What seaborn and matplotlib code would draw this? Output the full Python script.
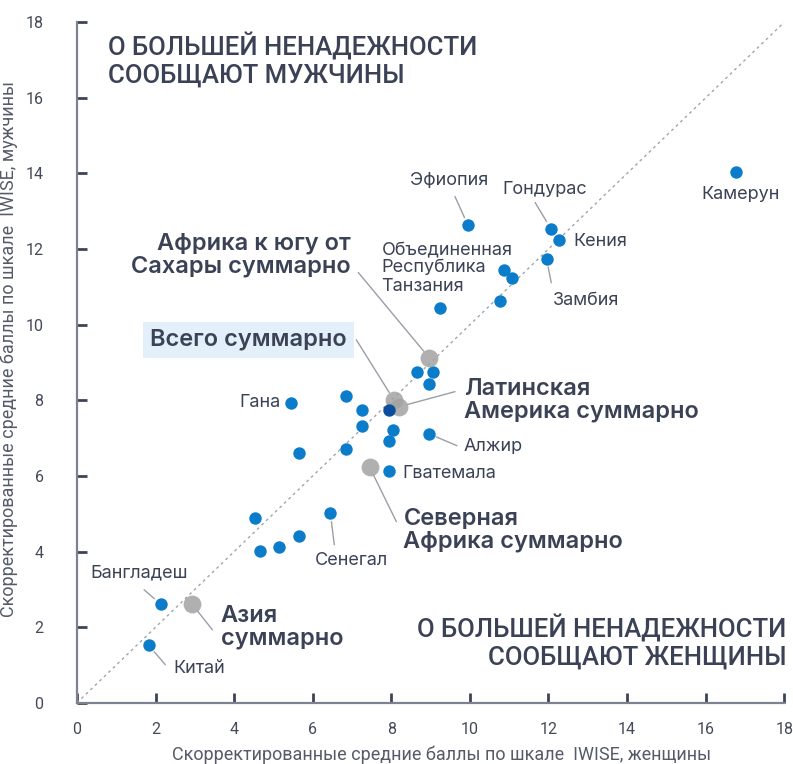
import matplotlib
matplotlib.use("Agg")
import matplotlib.pyplot as plt
import seaborn as sns
import pandas as pd

# Country-level points (women score, men score)
country_x = [16.78, 9.95, 12.06, 12.27, 11.95, 10.86, 11.06, 10.76, 9.25,
             8.65, 9.05, 8.96, 6.85, 5.44, 7.26, 7.25, 8.05, 7.95, 8.95,
             6.84, 5.64, 7.95, 4.53, 6.45, 5.64, 5.15, 4.65, 2.13, 1.83]
country_y = [14.04, 12.63, 12.54, 12.24, 11.74, 11.45, 11.24, 10.63, 10.43,
             8.74, 8.74, 8.43, 8.12, 7.93, 7.74, 7.31, 7.22, 6.92, 7.12,
             6.70, 6.62, 6.12, 4.90, 5.01, 4.42, 4.11, 4.02, 2.61, 1.52]
highlight_x = [7.95]
highlight_y = [7.75]

# Regional summary points
summary_names = ["Африка к югу от\nСахары суммарно", "Всего суммарно",
                 "Латинская\nАмерика суммарно", "Северная\nАфрика суммарно",
                 "Азия\nсуммарно"]
summary_x = [8.96, 8.06, 8.20, 7.45, 2.93]
summary_y = [9.13, 8.02, 7.83, 6.23, 2.61]

x_ticks = [0, 2, 4, 6, 8, 10, 12, 14, 16, 18]
y_ticks = [0, 2, 4, 6, 8, 10, 12, 14, 16, 18]

BLUE = "#0a7cc9"
DARKBLUE = "#0b4f9c"
GRAY = "#a3a3a3"
TXT = "#3b4256"
LINE = "#9a9ea8"

sns.set_theme(style="white")
plt.rcParams["font.family"] = ["Roboto", "DejaVu Sans"]

fig = plt.figure(figsize=(7.93, 7.64), dpi=100)
ax = fig.add_axes([0.097, 0.080, 0.892, 0.891])

ax.plot([0, 18], [0, 18], linestyle=(0, (2, 2.5)), color="#a0a4ab", lw=1, zorder=1)

df_c = pd.DataFrame({"x": country_x, "y": country_y})
df_s = pd.DataFrame({"x": summary_x, "y": summary_y, "name": summary_names})
df_h = pd.DataFrame({"x": highlight_x, "y": highlight_y})

sns.scatterplot(data=df_c, x="x", y="y", ax=ax, color=BLUE, s=80,
                linewidth=0, zorder=3)
sns.scatterplot(data=df_s, x="x", y="y", ax=ax, color=GRAY, s=165,
                linewidth=0, alpha=0.85, zorder=4)
sns.scatterplot(data=df_h, x="x", y="y", ax=ax, color=DARKBLUE, s=80,
                linewidth=0, zorder=5)

ax.set_xlim(0, 18)
ax.set_ylim(0, 18)
ax.set_xticks(x_ticks)
ax.set_yticks(y_ticks)
ax.set_xticklabels([str(v) for v in x_ticks])
ax.set_yticklabels([str(v) for v in y_ticks])
ax.tick_params(axis="both", direction="in", length=7, width=2,
               color="#3d4455", labelcolor="#444a58", labelsize=11.5,
               bottom=True, left=True)
ax.tick_params(axis="x", pad=14)
ax.tick_params(axis="y", pad=24)
for side in ["top", "right"]:
    ax.spines[side].set_visible(False)
for side in ["left", "bottom"]:
    ax.spines[side].set_color("#7d8290")
    ax.spines[side].set_linewidth(1.6)

ax.set_xlabel("Скорректированные средние баллы по шкале  IWISE, женщины",
              fontsize=13, color="#555b68")
ax.set_ylabel("Скорректированные средние баллы по шкале  IWISE, мужчины",
              fontsize=13, color="#555b68")
ax.xaxis.set_label_coords(0.515, -0.063)
ax.yaxis.set_label_coords(-0.083, 0.52)

# Corner titles
TFS = 18.5
ax.text(0.79, 17.0, "О БОЛЬШЕЙ НЕНАДЕЖНОСТИ\nСООБЩАЮТ МУЖЧИНЫ", fontsize=TFS,
        color=TXT, ha="left", va="center", linespacing=1.2, fontweight="medium")
ax.text(18.05, 1.61, "О БОЛЬШЕЙ НЕНАДЕЖНОСТИ\nСООБЩАЮТ ЖЕНЩИНЫ", fontsize=TFS,
        color=TXT, ha="right", va="center", linespacing=1.2, multialignment="right",
        fontweight="medium")

def lead(p, q):
    ax.annotate("", xy=p, xytext=q,
                arrowprops=dict(arrowstyle="-", color=LINE, lw=1,
                                shrinkA=0, shrinkB=6), zorder=2)

FS = 13
lab = dict(fontsize=FS, color=TXT, family=["Inter", "DejaVu Sans"])
# Country labels
ax.text(16.88, 13.44, "Камерун", ha="center", va="center", **lab)
ax.text(8.47, 13.81, "Эфиопия", ha="left", va="center", **lab)
lead((country_x[1], country_y[1]), (9.62, 13.39))
ax.text(10.82, 13.57, "Гондурас", ha="left", va="center", **lab)
lead((country_x[2], country_y[2]), (11.66, 13.23))
ax.text(12.63, 12.20, "Кения", ha="left", va="center", **lab)
ax.text(12.12, 10.63, "Замбия", ha="left", va="center", **lab)
lead((country_x[4], country_y[4]), (12.07, 11.11))
ax.text(7.75, 11.50, "Объединенная\nРеспублика\nТанзания", ha="left", va="center",
        linespacing=1.1, **lab)
ax.text(5.19, 7.94, "Гана", ha="right", va="center", **lab)
ax.text(9.85, 6.77, "Алжир", ha="left", va="center", **lab)
lead((country_x[18], country_y[18]), (9.67, 6.80))
ax.text(8.29, 6.06, "Гватемала", ha="left", va="center", **lab)
ax.text(6.06, 3.76, "Сенегал", ha="left", va="center", **lab)
lead((country_x[23], country_y[23]), (6.55, 4.18))
ax.text(0.33, 3.44, "Бангладеш", ha="left", va="center", **lab)
lead((country_x[27], country_y[27]), (1.71, 2.99))
ax.text(2.46, 0.90, "Китай", ha="left", va="center", **lab)
lead((country_x[28], country_y[28]), (2.25, 1.01))

# Summary labels (bold)
BFS = 17
bold = dict(fontsize=BFS, color=TXT, fontweight="semibold",
            family=["Inter", "DejaVu Sans"], linespacing=1.05)
ax.text(6.98, 11.85, summary_names[0], ha="right", va="center",
        multialignment="right", **bold)
lead((summary_x[0], summary_y[0]), (7.16, 11.38))
ax.text(4.37, 9.6, summary_names[1], ha="center", va="center",
        bbox=dict(boxstyle="square,pad=0.3", fc="#e3f0f9", ec="none"), **bold)
lead((summary_x[1], summary_y[1]), (7.11, 9.60))
ax.text(9.85, 8.0, summary_names[2], ha="left", va="center", **bold)
lead((summary_x[2], summary_y[2]), (9.62, 8.23))
ax.text(8.31, 4.57, summary_names[3], ha="left", va="center", **bold)
lead((summary_x[3], summary_y[3]), (8.13, 4.79))
ax.text(3.66, 2.0, summary_names[4], ha="left", va="center", **bold)
lead((summary_x[4], summary_y[4]), (3.45, 1.93))

fig.savefig("out.png", dpi=100)
